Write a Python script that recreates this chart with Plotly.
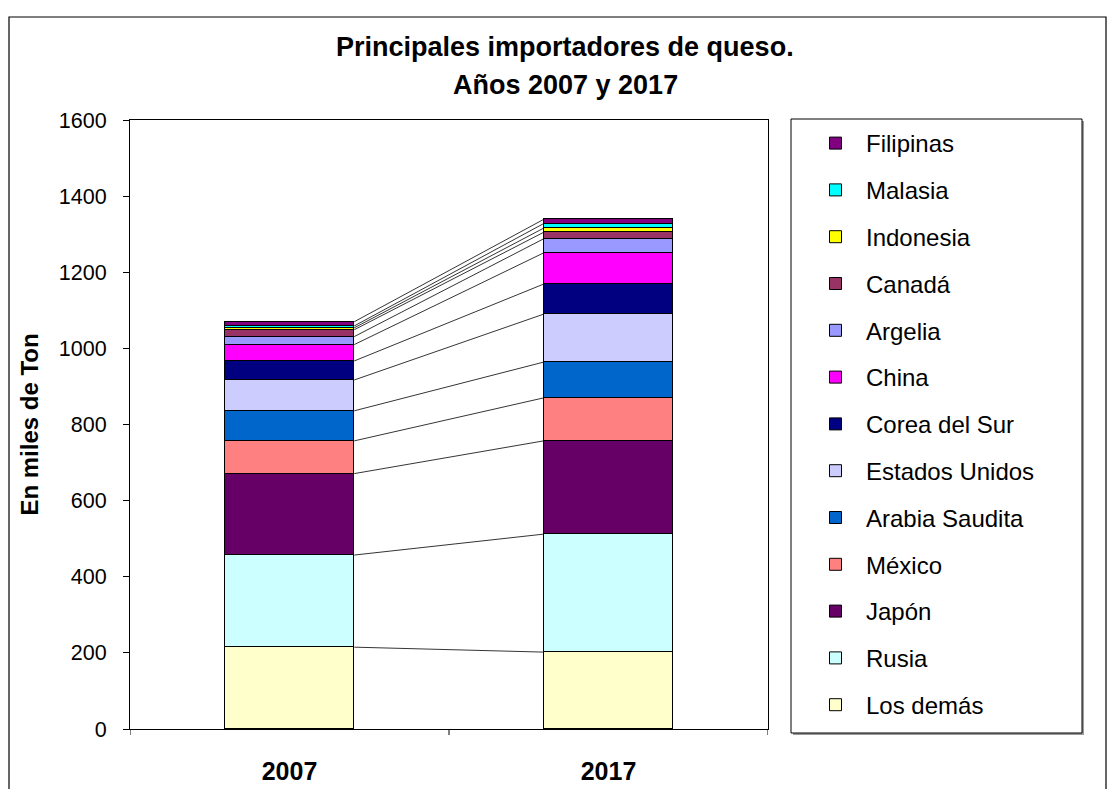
import plotly.graph_objects as go

# Cheese imports by country, thousand tonnes
years = ["2007", "2017"]
countries = ["Los demás", "Rusia", "Japón", "México", "Arabia Saudita",
             "Estados Unidos", "Corea del Sur", "China", "Argelia", "Canadá",
             "Indonesia", "Malasia", "Filipinas"]
values_2007 = [215, 242, 214, 86, 79, 81, 50, 43, 21, 18, 5, 5, 11]
values_2017 = [202, 310, 245, 113, 94, 126, 79, 82, 37, 17, 11, 12, 11]
colors = ["#FFFFCC", "#CCFFFF", "#660066", "#FF8080", "#0066CC",
          "#CCCCFF", "#000080", "#FF00FF", "#9999FF", "#993366",
          "#FFFF00", "#00FFFF", "#800080"]
y_ticks = [0, 200, 400, 600, 800, 1000, 1200, 1400, 1600]

FONT = "Liberation Sans, Arial, sans-serif"
W, H = 1114, 789
L, R, T, B = 130, 346, 120, 60
PW, PH = W - L - R, H - T - B
bar_w = 0.406


def px_x(p):
    return (p - L) / PW


def px_y(p):
    return (H - B - p) / PH


fig = go.Figure()

n = len(countries)
for i, name in enumerate(countries):
    fig.add_trace(go.Bar(
        x=[0, 1], y=[values_2007[i], values_2017[i]], name=name,
        width=bar_w, marker=dict(color=colors[i], line=dict(color="black", width=1)),
        legendgroup=name, legendrank=n - i,
    ))

# Series lines joining the top of each segment across the two bars
lx, ly = [], []
c07 = c17 = 0
for a, b in zip(values_2007, values_2017):
    c07 += a
    c17 += b
    lx += [bar_w / 2, 1 - bar_w / 2, None]
    ly += [c07, c17, None]
fig.add_trace(go.Scatter(x=lx, y=ly, mode="lines", showlegend=False,
                         line=dict(color="black", width=0.8), hoverinfo="skip"))

shapes = [
    # outer chart frame
    dict(type="rect", xref="paper", yref="paper", x0=px_x(9), x1=px_x(1106),
         y0=px_y(830), y1=px_y(17), line=dict(color="black", width=1.2), layer="below"),
    # legend box shadow and frame
    dict(type="rect", xref="paper", yref="paper", x0=px_x(793), x1=px_x(1084),
         y0=px_y(735), y1=px_y(121), line=dict(width=0), fillcolor="#9a9a9a", layer="below"),
    dict(type="rect", xref="paper", yref="paper", x0=px_x(791), x1=px_x(1082),
         y0=px_y(733), y1=px_y(119), line=dict(color="black", width=1), fillcolor="white",
         layer="below"),
]
# x-axis tick marks at category boundaries
for xv in [-0.5, 0.5, 1.5]:
    shapes.append(dict(type="line", xref="x", yref="paper", x0=xv, x1=xv,
                       y0=0, y1=-6 / PH, line=dict(color="black", width=1)))

annotations = [
    dict(text="<b>Principales importadores de queso.</b>", xref="paper", yref="paper",
         x=px_x(565), y=px_y(47), xanchor="center", yanchor="middle", showarrow=False,
         font=dict(size=27, family=FONT, color="black")),
    dict(text="<b>Años 2007 y 2017</b>", xref="paper", yref="paper",
         x=px_x(565), y=px_y(85), xanchor="center", yanchor="middle", showarrow=False,
         font=dict(size=27, family=FONT, color="black")),
]

fig.update_layout(
    width=W, height=H,
    margin=dict(l=L, r=R, t=T, b=B, autoexpand=False),
    paper_bgcolor="white", plot_bgcolor="white",
    barmode="stack", bargap=0,
    font=dict(family=FONT, size=20, color="black"),
    shapes=shapes, annotations=annotations,
    showlegend=True,
    legend=dict(traceorder="grouped", x=px_x(805), y=px_y(121),
                xanchor="left", yanchor="top", itemwidth=51, maxheight=760,
                bgcolor="rgba(0,0,0,0)", borderwidth=0, tracegroupgap=12.6,
                font=dict(size=24, family=FONT, color="black")),
    xaxis=dict(range=[-0.5, 1.5], tickvals=[0, 1], ticktext=["<b>2007</b>", "<b>2017</b>"],
               ticks="", showgrid=False, zeroline=False, showline=True, linecolor="black",
               linewidth=1, mirror=True, ticklabelstandoff=20, fixedrange=True,
               tickfont=dict(size=25, family=FONT)),
    yaxis=dict(range=[0, 1600], tickvals=y_ticks, ticks="outside", ticklen=6,
               tickcolor="black", showgrid=False, zeroline=False, showline=True,
               linecolor="black", linewidth=1, mirror=True, ticklabelstandoff=12,
               title=dict(text="<b>En miles de Ton</b>", standoff=13,
                          font=dict(size=24, family=FONT)),
               tickfont=dict(size=21.5, family=FONT)),
)

fig.write_html("out.html")
